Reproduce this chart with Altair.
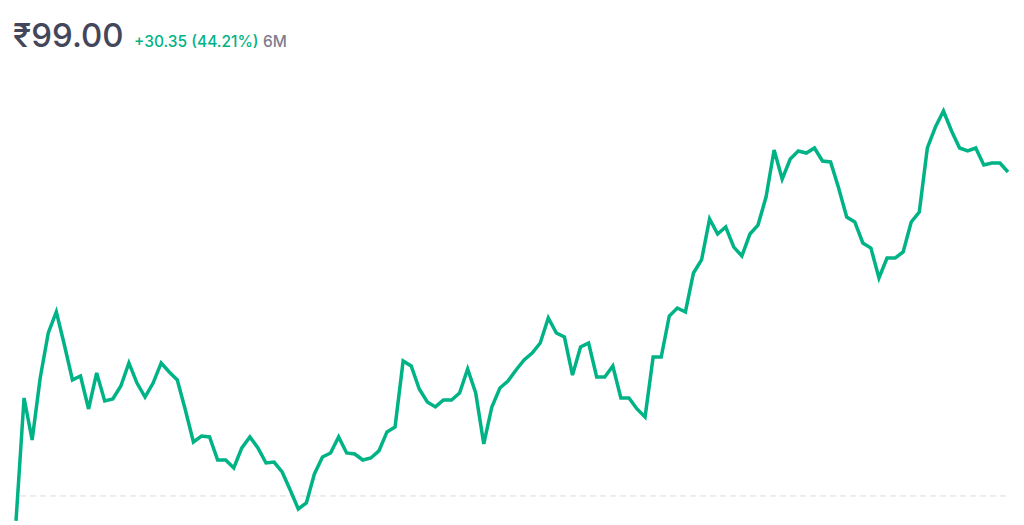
import altair as alt
import pandas as pd

# Closing prices over 6 months
prices = [
    66.31, 77.83, 73.90, 79.70, 83.92, 85.89, 82.79, 79.52, 79.89, 76.80,
    80.17, 77.55, 77.74, 78.95, 81.11, 79.23, 77.92, 79.23, 81.11, 80.27,
    79.52, 76.71, 73.71, 74.27, 74.18, 72.02, 72.02, 71.27, 73.15, 74.18,
    73.15, 71.74, 71.83, 70.90, 69.21, 67.43, 67.99, 70.71, 72.30, 72.68,
    74.18, 72.68, 72.58, 72.02, 72.21, 72.87, 74.65, 75.11, 81.30, 80.83,
    78.67, 77.45, 76.99, 77.64, 77.64, 78.30, 80.55, 78.30, 73.52, 76.99,
    78.77, 79.42, 80.45, 81.39, 82.04, 82.98, 85.32, 83.92, 83.54, 79.98,
    82.61, 82.98, 79.80, 79.80, 80.83, 77.83, 77.83, 76.80, 76.05, 81.67,
    81.67, 85.51, 86.26, 85.89, 89.54, 90.76, 94.60, 93.19, 93.85, 91.97,
    91.13, 93.19, 94.03, 96.66, 101.06, 98.34, 100.22, 100.97, 100.78, 101.25,
    100.03, 99.94, 97.50, 94.78, 94.32, 92.35, 91.88, 89.07, 90.94, 90.94,
    91.51, 94.32, 95.25, 101.25, 103.21, 104.71, 102.84, 101.25, 100.97, 101.25,
    99.65, 99.84, 99.84, 99.00,
]
reference_price = [68.65]
price_label = ["₹99.00"]
change_label = ["+30.35 (44.21%)"]
period_label = ["6M"]

GREEN = "#00b386"
FONT = "Inter"

df = pd.DataFrame({"i": list(range(len(prices))), "price": prices})

x_scale = alt.Scale(domain=[0, len(prices) - 1], nice=False, zero=False)
y_scale = alt.Scale(domain=[65.93, 107.62], nice=False, zero=False)

base_rule = alt.Chart(pd.DataFrame({"ref": reference_price})).mark_rule(
    color="#dcdcdc", strokeDash=[6, 4], strokeWidth=1
).encode(
    y=alt.Y("ref:Q", scale=y_scale, axis=None),
    x=alt.value(4),
    x2=alt.value(992),
)

line = alt.Chart(df).mark_line(color=GREEN, strokeWidth=3.5, strokeJoin="miter", strokeMiterLimit=4).encode(
    x=alt.X("i:Q", scale=x_scale, axis=None),
    y=alt.Y("price:Q", scale=y_scale, axis=None),
)

big = alt.Chart(pd.DataFrame({"t": price_label})).mark_text(
    align="left", baseline="alphabetic", font=FONT, fontSize=33, fontWeight=500, color="#44475b"
).encode(text="t:N", x=alt.value(-3), y=alt.value(-33))

chg = alt.Chart(pd.DataFrame({"t": change_label})).mark_text(
    align="left", baseline="alphabetic", font=FONT, fontSize=15.5, fontWeight=500, color=GREEN
).encode(text="t:N", x=alt.value(118), y=alt.value(-33))

per = alt.Chart(pd.DataFrame({"t": period_label})).mark_text(
    align="left", baseline="alphabetic", font=FONT, fontSize=15.5, fontWeight=500, color="#7c7e8c"
).encode(text="t:N", x=alt.value(247), y=alt.value(-33))

chart = alt.layer(base_rule, line, big, chg, per).properties(
    width=992,
    height=445,
    background="white",
    autosize=alt.AutoSizeParams(type="none"),
    padding={"left": 8, "top": 72, "right": 8, "bottom": 0},
).configure_view(strokeWidth=0)

chart.save("out.html", embed_options={"renderer": "svg", "actions": False})
